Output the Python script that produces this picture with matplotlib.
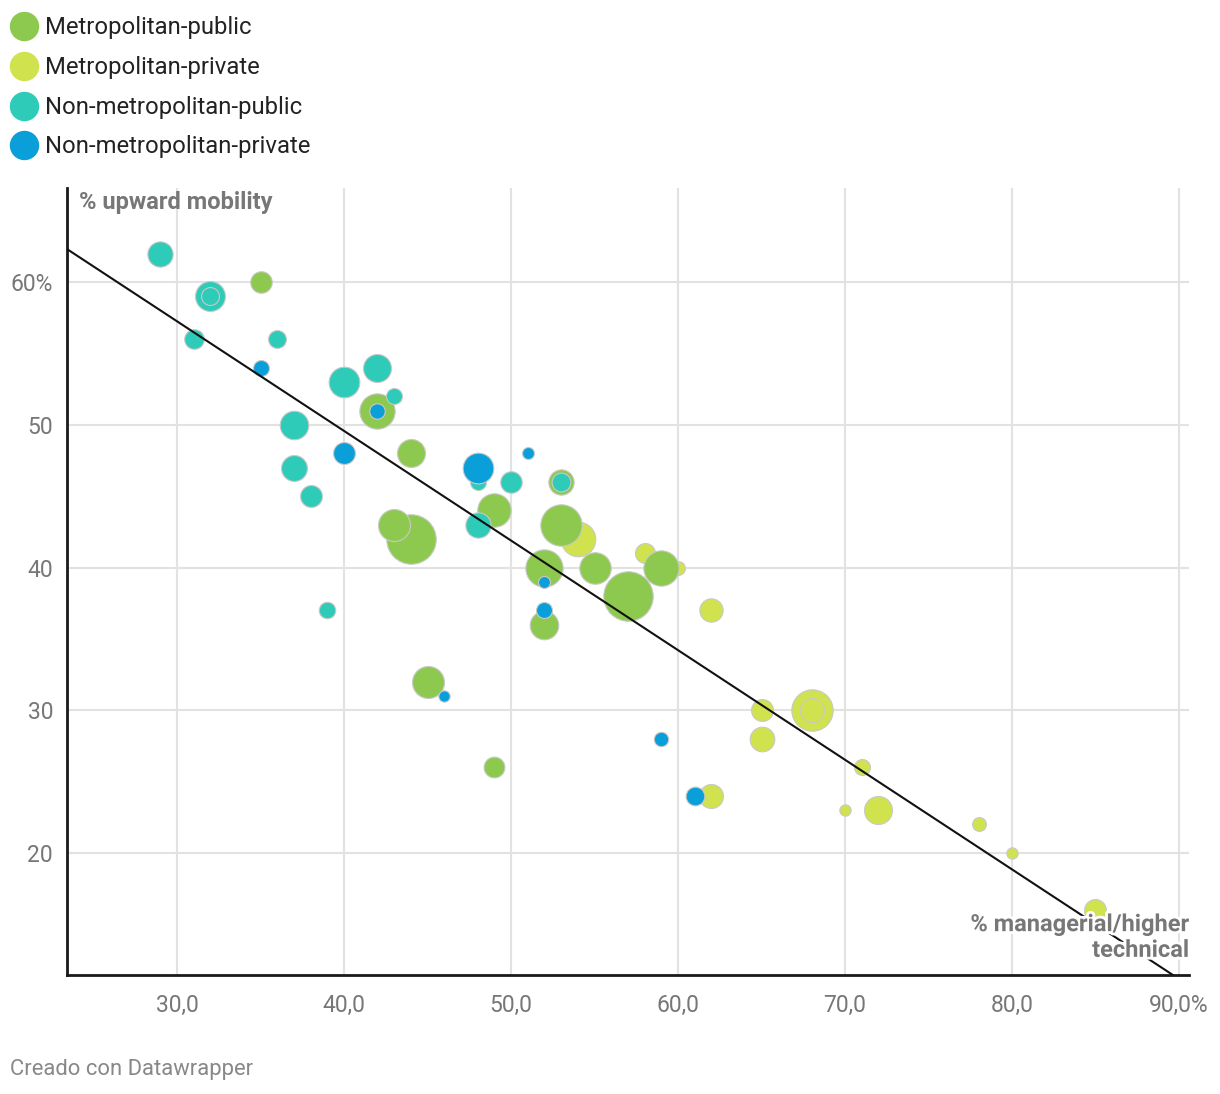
import numpy as np
import matplotlib
matplotlib.use("Agg")
import matplotlib.pyplot as plt
import matplotlib.patheffects as pe

plt.rcParams['font.family'] = ['Roboto', 'DejaVu Sans']

# ---------------- data ----------------
series_names = ["Metropolitan-public", "Metropolitan-private",
                "Non-metropolitan-public", "Non-metropolitan-private"]
series_colors = ["#8dc94e", "#d1e24f", "#2ecbb8", "#0a9fd9"]

# % managerial/higher technical (x), % upward mobility (y), bubble size value
metro_public_x = [35, 42, 44, 43, 44, 49, 45, 49, 52, 52, 53, 55, 57, 59, 53]
metro_public_y = [60, 51, 48, 43, 42, 44, 32, 26, 40, 36, 43, 40, 38, 40, 46]
metro_public_n = [29, 78, 49, 64, 153, 70, 64, 27, 87, 51, 107, 62, 153, 78, 40]

metro_private_x = [54, 58, 60, 62, 65, 65, 68, 68, 62, 71, 70, 72, 78, 80, 85]
metro_private_y = [42, 41, 40, 37, 30, 28, 30, 30, 24, 26, 23, 23, 22, 20, 16]
metro_private_n = [75, 25, 12, 34, 30, 38, 107, 36, 36, 16, 8, 49, 12, 8, 30]

nonmetro_public_x = [29, 32, 32, 31, 36, 40, 42, 43, 37, 37, 38, 39, 48, 48, 50, 53]
nonmetro_public_y = [62, 59, 59, 56, 56, 53, 54, 52, 50, 47, 45, 37, 43, 46, 46, 46]
nonmetro_public_n = [40, 56, 20, 24, 20, 59, 49, 16, 51, 42, 30, 17, 40, 16, 29, 22]

nonmetro_private_x = [35, 42, 40, 48, 51, 52, 52, 46, 59, 61]
nonmetro_private_y = [54, 51, 48, 47, 48, 39, 37, 31, 28, 24]
nonmetro_private_n = [16, 15, 30, 59, 9, 9, 16, 8, 13, 22]

# trend line (as shown in the chart)
trend_intercept = 80.29
trend_slope = -0.768

x_ticks = [30, 40, 50, 60, 70, 80, 90]
x_tick_labels = ["30,0", "40,0", "50,0", "60,0", "70,0", "80,0", "90,0%"]
y_ticks = [20, 30, 40, 50, 60]
y_tick_labels = ["20", "30", "40", "50", "60%"]

x_title = "% managerial/higher\ntechnical"
y_title = "% upward mobility"
footer = "Creado con Datawrapper"

# ---------------- figure ----------------
W, H = 1220, 1094
DPI = 100
fig = plt.figure(figsize=(W / DPI, H / DPI), dpi=DPI)

def fx(px):
    return px / W

def fy(py):
    return 1 - py / H

ax_left, ax_right, ax_top, ax_bottom = 67, 1189, 188, 975
ax = fig.add_axes([fx(ax_left), fy(ax_bottom), fx(ax_right - ax_left),
                   (ax_bottom - ax_top) / H])
ax.set_xlim(23.41, 90.6)
ax.set_ylim(11.45, 66.59)

grid_c = "#e2e2e2"
for xt in x_ticks:
    ax.axvline(xt, color=grid_c, lw=1.5, zorder=0)
for yt in y_ticks:
    ax.axhline(yt, color=grid_c, lw=1.5, zorder=0)

for s in ["top", "right"]:
    ax.spines[s].set_visible(False)
for s in ["left", "bottom"]:
    ax.spines[s].set_color("#1a1a1a")
    ax.spines[s].set_linewidth(2)

ax.set_xticks(x_ticks)
ax.set_xticklabels(x_tick_labels)
ax.set_yticks(y_ticks)
ax.set_yticklabels(y_tick_labels)
ax.tick_params(axis="both", length=0, labelsize=16.5, colors="#777777")
ax.tick_params(axis="x", pad=14)
ax.tick_params(axis="y", pad=10)

def px_to_s(r_px):
    return (2 * r_px * 72 / DPI) ** 2

all_series = [
    (metro_private_x, metro_private_y, metro_private_n, series_colors[1]),
    (metro_public_x, metro_public_y, metro_public_n, series_colors[0]),
    (nonmetro_public_x, nonmetro_public_y, nonmetro_public_n, series_colors[2]),
    (nonmetro_private_x, nonmetro_private_y, nonmetro_private_n, series_colors[3]),
]
z = 2.0
for xs, ys, ns, col in all_series:
    xs = np.array(xs, float); ys = np.array(ys, float); ns = np.array(ns, float)
    order = np.argsort(-ns, kind="stable")
    for i in order:
        r = 2 * np.sqrt(ns[i])
        ax.scatter([xs[i]], [ys[i]], s=px_to_s(r), color=col,
                   edgecolors="#c9c9c9", linewidths=0.8, zorder=z)
        z += 0.01

# trend line
xl = np.array(ax.get_xlim())
ax.plot(xl, trend_intercept + trend_slope * xl, color="#111111", lw=1.5,
        zorder=50, clip_on=True)

# axis titles
fig.text(fx(79), fy(202), y_title, ha="left", va="center", fontsize=17,
         fontweight="bold", color="#777777")
fig.text(fx(1189), fy(937.5), x_title, ha="right", va="center", fontsize=17,
         fontweight="bold", color="#777777", linespacing=1.15, zorder=60,
         path_effects=[pe.withStroke(linewidth=4, foreground="white")])

# legend
leg_y = [26, 66, 106, 145]
for name, col, yy in zip(series_names, series_colors, leg_y):
    fig.add_artist(matplotlib.lines.Line2D([fx(24)], [fy(yy)], marker="o",
                   markersize=2 * 14 * 72 / DPI, color=col, linestyle="none",
                   transform=fig.transFigure))
    fig.text(fx(45), fy(yy + 1.5), name, ha="left", va="center", fontsize=17.2,
             color="#222222")

# footer
fig.text(fx(10), fy(1069), footer, ha="left", va="center", fontsize=15.8,
         color="#888888")

fig.savefig("out.png", dpi=DPI)
